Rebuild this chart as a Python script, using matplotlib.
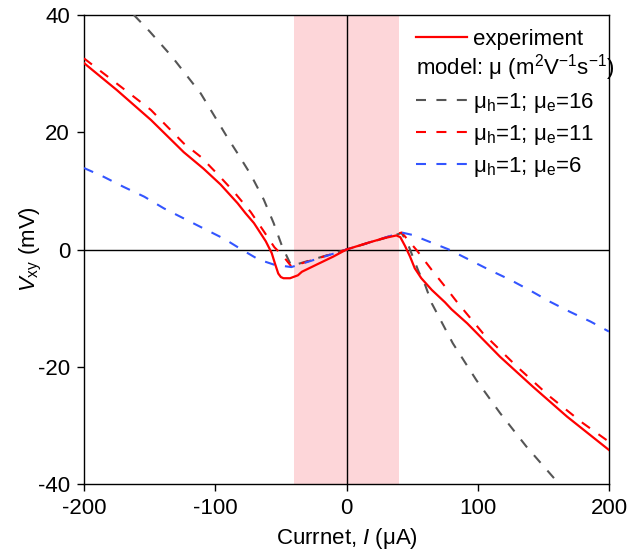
import matplotlib
matplotlib.use("Agg")
import matplotlib.pyplot as plt

plt.rcParams['font.family'] = ['Liberation Sans', 'DejaVu Sans']
plt.rcParams['mathtext.fontset'] = 'custom'
plt.rcParams['mathtext.rm'] = 'Liberation Sans'
plt.rcParams['mathtext.it'] = 'Liberation Sans:italic'
plt.rcParams['mathtext.bf'] = 'Liberation Sans:bold'
plt.rcParams['axes.unicode_minus'] = False
plt.rcParams['font.size'] = 16

# ---------------- data ----------------
band_lo, band_hi = -40, 40

exp_I = [-200, -175, -149, -124, -109, -96, -83, -77, -70.5, -67, -61.5, -57, -54.5, -52,
         -50, -48, -43, -37, -34, -23, -10, 0, 15, 28, 34, 38, 41, 44.6, 48.4, 52, 57, 65,
         75, 80, 92, 117, 142, 168, 200]
exp_V = [31.8, 27.2, 22.1, 16.6, 13.8, 11.1, 7.9, 6.2, 4.5, 3.3, 1.4, -0.6, -2.4, -4.1,
         -4.7, -4.9, -4.9, -4.4, -3.8, -2.6, -1.2, 0, 1.05, 1.9, 2.2, 2.4, 2.1, 0.6, -1.2, -3.2, -4.9, -6.9,
         -9.0, -10.2, -12.6, -18.3, -23.4, -28.5, -34.2]

m16_I = [-162, -150, -133, -111, -91, -83, -73, -63, -55.5, -49, -42, 0,
         42, 47, 51, 55, 60, 65, 81, 99, 117, 137, 162]
m16_V = [40, 37.2, 32.9, 26.6, 19.2, 16.4, 12.8, 8.5, 4.5, 0.5, -2.8, 0,
         2.8, 0.8, -1.5, -3.8, -6.1, -9.2, -16, -22.3, -27.9, -33.6, -40]

m11_I = [-200, -175, -149, -124, -111, -98, -86, -73, -63, -55, -48, -42, 0,
         42, 53.4, 65, 75, 84, 104, 130, 155, 180, 200]
m11_V = [32.6, 28.3, 23.8, 18.1, 15.8, 12.8, 9.9, 6.4, 3.1, 0.4, -1.2, -2.9, 0,
         2.9, -0.1, -3.5, -6.3, -8.9, -14.3, -20, -25.1, -29.6, -32.8]

m6_I = [-200, -185, -170, -154, -139, -124, -109, -93, -80, -67, -55, -42, 0,
        42, 50, 60, 78, 94, 109, 125, 140, 155, 170, 186, 200]
m6_V = [13.9, 12.4, 10.7, 9.0, 7.0, 5.3, 3.6, 1.8, 0.0, -1.7, -2.6, -3.0, 0,
        2.9, 2.5, 1.6, 0.0, -1.8, -3.5, -5.2, -7.0, -8.9, -10.6, -12.3, -14.0]

xticks = [-200, -100, 0, 100, 200]
yticks = [-40, -20, 0, 20, 40]

# ---------------- plot ----------------
fig = plt.figure(figsize=(6.27, 5.51), dpi=100)
ax = fig.add_axes([84/627, 1-484/551, 525/627, 469/551])

ax.axvspan(band_lo, band_hi, color='#fdd6d9', lw=0, zorder=0)
ax.axhline(0, color='black', lw=1.0, zorder=1)
ax.axvline(0, color='black', lw=1.0, zorder=1)

dash = (4.8, 5.0)
l16, = ax.plot(m16_I, m16_V, color='#555555', lw=1.5, dashes=dash, zorder=3)
l11, = ax.plot(m11_I, m11_V, color='#ff0000', lw=1.5, dashes=dash, zorder=3)
l6, = ax.plot(m6_I, m6_V, color='#3355ff', lw=1.5, dashes=dash, zorder=3)
le, = ax.plot(exp_I, exp_V, color='#ff0000', lw=1.6, zorder=4)

ax.set_xlim(-200, 200)
ax.set_ylim(-40, 40)
ax.set_xticks(xticks)
ax.set_yticks(yticks)
ax.tick_params(direction='out', length=5, width=1, labelsize=16, pad=5)
for s in ax.spines.values():
    s.set_linewidth(1.0)

ax.set_xlabel(r'Currnet, $\mathit{I}$ (μA)', fontsize=16, labelpad=5)
ax.set_ylabel(r'$\mathit{V}_{\mathrm{xy}}$ (mV)', fontsize=16)
ax.yaxis.set_label_coords(-0.076, 0.5)

leg1 = ax.legend([le], ['experiment'], loc='upper left', bbox_to_anchor=(0.632, 0.970),
                 frameon=False, borderpad=0, borderaxespad=0, handlelength=2.3,
                 handletextpad=0.26, fontsize=16)
ax.add_artist(leg1)
leg2 = ax.legend([l16, l11, l6],
                 [r'μ$_\mathrm{h}$=1; μ$_\mathrm{e}$=16',
                  r'μ$_\mathrm{h}$=1; μ$_\mathrm{e}$=11',
                  r'μ$_\mathrm{h}$=1; μ$_\mathrm{e}$=6'],
                 title=r'model: μ (m$^2$V$^{-1}$s$^{-1}$)', title_fontsize=16,
                 alignment='left', loc='upper left', bbox_to_anchor=(0.632, 0.92),
                 frameon=False, borderpad=0, borderaxespad=0, handlelength=2.3,
                 handletextpad=0.26, labelspacing=0.35, fontsize=16)

fig.savefig('out.png', dpi=100)
